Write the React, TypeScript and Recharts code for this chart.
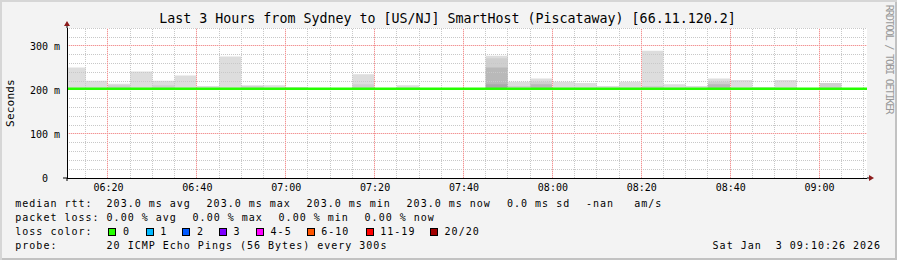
import React from "react";
import {
  ComposedChart,
  Area,
  Line,
  XAxis,
  YAxis,
  ReferenceLine,
  ReferenceArea,
  ReferenceDot,
} from "recharts";

// 5 minute steps, each value holds for the step that starts at its time
const times = [
  "06:10", "06:15", "06:20", "06:25", "06:30", "06:35", "06:40", "06:45", "06:50", "06:55",
  "07:00", "07:05", "07:10", "07:15", "07:20", "07:25", "07:30", "07:35", "07:40", "07:45",
  "07:50", "07:55", "08:00", "08:05", "08:10", "08:15", "08:20", "08:25", "08:30", "08:35",
  "08:40", "08:45", "08:50", "08:55", "09:00", "09:05", "09:10",
];

// smoke bands in ms (null = no smoke)
const smokeMax = [
  251, 221, 214, 242, 221, 233, 209, 276, 211, 211,
  207, null, null, 236, null, 211, null, null, null, 278,
  219, 226, 219, 216, 209, 219, 289, 213, 209, 226,
  223, 207, 223, null, 216, null, null,
];
const smokeMid = [
  null, null, 211, null, 211, null, null, null, 209, null,
  null, null, null, 213, null, null, null, null, null, 272,
  209, 219, null, null, null, null, 209, null, null, 219,
  null, null, null, null, 216, null, null,
];
const smokeLow = [
  null, null, null, null, null, null, null, null, null, null,
  null, null, null, null, null, null, null, null, null, 251,
  null, 213, null, null, null, null, null, null, null, 213,
  null, null, null, null, null, null, null,
];
const smokeCore = [
  null, null, null, null, null, null, null, null, null, null,
  null, null, null, null, null, null, null, null, null, 213,
  null, null, null, null, null, null, null, null, null, null,
  null, null, null, null, null, null, null,
];
const medianRtt = [
  203, 203, 203, 203, 203, 203, 203, 203, 203, 203,
  203, 203, 203, 203, 203, 203, 203, 203, 203, 203,
  203, 203, 203, 203, 203, 203, 203, 203, 203, 203,
  203, 203, 203, 203, 203, 203, 203,
];

const xTickLabels = ["06:20", "06:40", "07:00", "07:20", "07:40", "08:00", "08:20", "08:40", "09:00"];
const yTicks = [0, 100, 200, 300];
const yMinor = [20, 40, 60, 80, 120, 140, 160, 180, 220, 240, 260, 280, 320, 340];

const lossLegend = [
  { label: "0", color: "#26ff00" },
  { label: "1", color: "#00b8ff" },
  { label: "2", color: "#0059ff" },
  { label: "3", color: "#7e00ff" },
  { label: "4-5", color: "#ff00ff" },
  { label: "6-10", color: "#ff5500" },
  { label: "11-19", color: "#ff0000" },
  { label: "20/20", color: "#a10000" },
];

const toMin = (s: string) => {
  const [h, m, sec = "0"] = s.split(":");
  return +h * 60 + +m + +sec / 60;
};

const viewStart = toMin("06:10:47");
const viewEnd = toMin("09:10:47");
const yMax = 340.9;
const smokeBase = 202;

const rows = times.map((t, i) => ({
  t: toMin(t),
  max: smokeMax[i],
  mid: smokeMid[i],
  low: smokeLow[i],
  core: smokeCore[i],
  median: medianRtt[i],
}));
rows.push({ ...rows[rows.length - 1], t: viewEnd });

const xTicks = xTickLabels.map(toMin);
const xMinor: number[] = [];
for (let m = toMin("06:15"); m <= toMin("09:10"); m += 5) {
  if (m % 20 !== 0) xMinor.push(m);
}
const majorY = [100, 200, 300];

const fmtTime = (v: number) => {
  const h = Math.floor(v / 60);
  const m = Math.round(v % 60);
  return `${String(h).padStart(2, "0")}:${String(m).padStart(2, "0")}`;
};

const mono = "'DejaVu Sans Mono', monospace";
const MINOR = "#c8c8c8";
const MAJOR = "#f29494";
const MAJOR_UNDER = "#fbdcdc";
const ARROW = "#8c1c1c";

const snap = (v: number) => Math.floor(v) + 0.5;
const snapped = (p: any) => {
  const vert = Math.abs(p.x1 - p.x2) < 0.01;
  return {
    x1: vert ? snap(p.x1) : p.x1,
    x2: vert ? snap(p.x2) : p.x2,
    y1: vert ? p.y1 : snap(p.y1),
    y2: vert ? p.y2 : snap(p.y2),
  };
};

// 1px dotted grid line, snapped to the pixel grid
const MinorDots = (p: any) => (
  <line {...snapped(p)} stroke={MINOR} strokeWidth={1} strokeDasharray="1 1" clipPath={p.clipPath} />
);
const MajorDots = (p: any) => (
  <g clipPath={p.clipPath}>
    <line {...snapped(p)} stroke={MAJOR_UNDER} strokeWidth={1} />
    <line {...snapped(p)} stroke={MAJOR} strokeWidth={1} strokeDasharray="1 1" />
  </g>
);

const XArrow = (p: any) => (
  <g>
    <line x1={p.cx} y1={p.cy} x2={p.cx + 3} y2={p.cy} stroke="#000" />
    <path d={`M${p.cx + 2},${p.cy - 3}L${p.cx + 7},${p.cy}L${p.cx + 2},${p.cy + 3}Z`} fill={ARROW} />
  </g>
);
const YArrow = (p: any) => (
  <g>
    <line x1={p.cx} y1={p.cy} x2={p.cx} y2={p.cy - 3} stroke="#000" />
    <path d={`M${p.cx - 3},${p.cy - 2}L${p.cx},${p.cy - 7}L${p.cx + 3},${p.cy - 2}Z`} fill={ARROW} />
  </g>
);
const Corner = (p: any) => (
  <g>
    <line x1={p.cx - 4} y1={p.cy} x2={p.cx} y2={p.cy} stroke="#000" />
    <line x1={p.cx} y1={p.cy} x2={p.cx} y2={p.cy + 3} stroke="#000" />
  </g>
);

const band = (key: "max" | "mid" | "low" | "core") => (d: any) => [smokeBase, d[key] ?? smokeBase];

const legendText: React.CSSProperties = {
  position: "absolute",
  fontFamily: mono,
  fontSize: 10,
  letterSpacing: 1,
  lineHeight: "10px",
  color: "#000",
  whiteSpace: "pre",
};

const Txt = ({ x, base, children }: { x: number; base: number; children: React.ReactNode }) => (
  <span style={{ ...legendText, left: x - 0.7, top: base - 8.5 }}>{children}</span>
);

export default function App() {
  return (
    <div
      style={{
        position: "relative",
        width: 897,
        height: 260,
        background: "#f3f3f3",
        boxShadow: "inset 2px 2px 0 #d6d6d6, inset -2px -2px 0 #c2c2c2",
        overflow: "hidden",
      }}
    >
      <style>{"body{margin:0}"}</style>
      <div
        style={{
          position: "absolute",
          left: -1,
          top: 12.4,
          width: 897,
          textAlign: "center",
          fontFamily: mono,
          fontSize: 13.3,
          lineHeight: "14px",
          whiteSpace: "pre",
          color: "#000",
        }}
      >
        Last 3 Hours from Sydney to [US/NJ] SmartHost (Piscataway) [66.11.120.2]
      </div>
      <div
        style={{
          position: "absolute",
          left: 10.5 - 50,
          top: 103 - 6,
          width: 100,
          height: 12,
          lineHeight: "12px",
          textAlign: "center",
          fontFamily: mono,
          fontSize: 11,
          letterSpacing: 0.2,
          transform: "rotate(-90deg)",
          color: "#000",
        }}
      >
        Seconds
      </div>
      <div
        style={{
          position: "absolute",
          left: 890 - 60,
          top: 59 - 6,
          width: 120,
          height: 12,
          lineHeight: "12px",
          textAlign: "center",
          fontFamily: mono,
          fontSize: 10.5,
          letterSpacing: -1.4,
          transform: "rotate(90deg)",
          color: "#9a9a9a",
          whiteSpace: "pre",
        }}
      >
        RRDTOOL / TOBI OETIKER
      </div>

      <div style={{ position: "absolute", left: 0, top: 0 }}>
        <ComposedChart
          width={897}
          height={260}
          data={rows}
          margin={{ top: 28, right: 30, bottom: 62, left: 7 }}
        >
          <XAxis
            dataKey="t"
            type="number"
            domain={[viewStart, viewEnd]}
            allowDataOverflow
            ticks={xTicks}
            interval={0}
            tickFormatter={fmtTime}
            height={20}
            tickSize={0}
            tickMargin={5.6}
            tickLine={false}
            axisLine={{ stroke: "#000", shapeRendering: "crispEdges" }}
            tick={{ fontFamily: mono, fontSize: 10, fill: "#000", dx: 0.5 }}
          />
          <YAxis
            type="number"
            domain={[0, yMax]}
            allowDataOverflow
            ticks={yTicks}
            interval={0}
            width={60}
            tickSize={0}
            tickMargin={7}
            tickLine={false}
            axisLine={{ stroke: "#000", shapeRendering: "crispEdges" }}
            tickFormatter={(v: number) => (v === 0 ? "0\u00a0\u00a0" : `${v} m`)}
            tick={{ fontFamily: mono, fontSize: 10, fill: "#000" }}
          />
          <ReferenceArea
            x1={viewStart}
            x2={viewEnd}
            y1={0}
            y2={yMax}
            fill="#ffffff"
            fillOpacity={1}
            stroke="none"
            ifOverflow="hidden"
          />
          <Area dataKey={band("max")} type="stepAfter" fill="#dddddd" fillOpacity={1} stroke="none" isAnimationActive={false} />
          <Area dataKey={band("mid")} type="stepAfter" fill="#cfcfcf" fillOpacity={1} stroke="none" isAnimationActive={false} />
          <Area dataKey={band("low")} type="stepAfter" fill="#b9b9b9" fillOpacity={1} stroke="none" isAnimationActive={false} />
          <Area dataKey={band("core")} type="stepAfter" fill="#a9a9a9" fillOpacity={1} stroke="none" isAnimationActive={false} />
          {yMinor.map((v) => (
            <ReferenceLine key={`ym${v}`} y={v} stroke={MINOR} shape={MinorDots} ifOverflow="hidden" />
          ))}
          {xMinor.map((v) => (
            <ReferenceLine key={`xm${v}`} x={v} stroke={MINOR} shape={MinorDots} ifOverflow="hidden" />
          ))}
          {majorY.map((v) => (
            <ReferenceLine key={`yM${v}`} y={v} stroke={MAJOR} shape={MajorDots} ifOverflow="hidden" />
          ))}
          {xTicks.map((v) => (
            <ReferenceLine key={`xM${v}`} x={v} stroke={MAJOR} shape={MajorDots} ifOverflow="hidden" />
          ))}
          <Line
            dataKey="median"
            type="stepAfter"
            stroke="#26ff00"
            strokeWidth={2.4}
            dot={false}
            activeDot={false}
            isAnimationActive={false}
          />
          <ReferenceDot x={viewEnd} y={0} ifOverflow="visible" shape={XArrow} />
          <ReferenceDot x={viewStart} y={yMax} ifOverflow="visible" shape={YArrow} />
          <ReferenceDot x={viewStart} y={0} ifOverflow="visible" shape={Corner} />
        </ComposedChart>
      </div>

      <Txt x={16} base={207.7}>median rtt:</Txt>
      <Txt x={107.3} base={207.7}>203.0 ms avg</Txt>
      <Txt x={207.3} base={207.7}>203.0 ms max</Txt>
      <Txt x={307.3} base={207.7}>203.0 ms min</Txt>
      <Txt x={407.3} base={207.7}>203.0 ms now</Txt>
      <Txt x={507.7} base={207.7}>0.0 ms sd</Txt>
      <Txt x={586.7} base={207.7}>-nan</Txt>
      <Txt x={635} base={207.7}>am/s</Txt>

      <Txt x={16} base={221.7}>packet loss:</Txt>
      <Txt x={107.3} base={221.7}>0.00 % avg</Txt>
      <Txt x={193.3} base={221.7}>0.00 % max</Txt>
      <Txt x={279.3} base={221.7}>0.00 % min</Txt>
      <Txt x={365.3} base={221.7}>0.00 % now</Txt>

      <Txt x={16} base={235.7}>loss color:</Txt>
      {lossLegend.map((l, i) => {
        const boxX = [108.3, 145.7, 182.3, 219, 256, 306.7, 365.7, 430][i];
        return (
          <React.Fragment key={l.label}>
            <span
              style={{
                position: "absolute",
                left: Math.round(boxX),
                top: 228,
                width: 8,
                height: 8,
                boxSizing: "border-box",
                border: "1px solid #000",
                background: l.color,
              }}
            />
            <Txt x={boxX + 15.3} base={235.7}>{l.label}</Txt>
          </React.Fragment>
        );
      })}

      <Txt x={16} base={249.7}>probe:</Txt>
      <Txt x={107.3} base={249.7}>20 ICMP Echo Pings (56 Bytes) every 300s</Txt>
      <Txt x={713.3} base={249.7}>Sat Jan  3 09:10:26 2026</Txt>
    </div>
  );
}
